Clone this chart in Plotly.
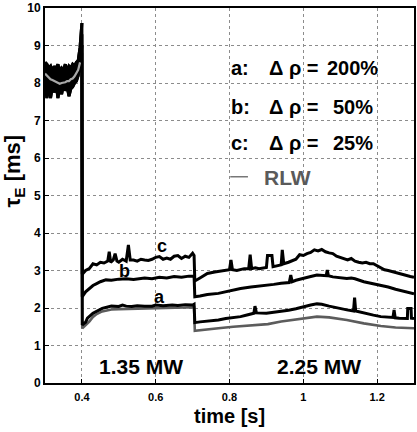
import plotly.graph_objects as go

# ---------------- data ----------------
t_pre = [0.300, 0.305, 0.310, 0.315, 0.320, 0.325, 0.330, 0.335, 0.340, 0.345,
         0.350, 0.355, 0.360, 0.365, 0.370, 0.375, 0.380, 0.385, 0.390, 0.395, 0.400]
c_pre = [8.55, 8.50, 8.40, 8.45, 8.30, 8.45, 8.35, 8.50, 8.30, 8.40,
         8.35, 8.50, 8.30, 8.45, 8.40, 8.50, 8.45, 8.55, 8.60, 8.95, 9.60]
b_pre = [8.30, 8.20, 8.15, 8.25, 8.10, 8.20, 8.05, 8.20, 8.10, 8.00,
         8.15, 8.10, 8.20, 8.00, 8.15, 8.20, 8.25, 8.30, 8.40, 8.70, 9.30]
a_pre = [8.10, 7.60, 8.00, 7.60, 7.90, 7.75, 8.00, 7.60, 7.90, 7.70,
         7.95, 7.80, 7.90, 7.65, 7.85, 7.90, 8.00, 8.05, 8.20, 8.50, 9.00]
rlw_pre = [8.25, 8.20, 8.15, 8.10, 8.08, 8.05, 8.02, 8.00, 7.98, 8.00,
           8.00, 8.02, 8.05, 8.05, 8.10, 8.12, 8.18, 8.25, 8.35, 8.55, 8.80]

c_t = [0.401, 0.41, 0.42, 0.43, 0.44, 0.45, 0.46, 0.47, 0.474, 0.478, 0.485, 0.490, 0.495,
       0.50, 0.51, 0.52, 0.526, 0.531, 0.54, 0.55, 0.56, 0.57, 0.58, 0.59, 0.60, 0.61, 0.62,
       0.63, 0.64, 0.65, 0.66, 0.67, 0.68, 0.69, 0.70, 0.704,
       0.706, 0.72, 0.74, 0.76, 0.78, 0.80, 0.804, 0.808, 0.82, 0.84, 0.852, 0.856, 0.860,
       0.87, 0.88, 0.900, 0.903, 0.915, 0.918, 0.93, 0.940, 0.943, 0.947, 0.96, 0.97, 0.98,
       0.99, 1.00, 1.01, 1.02, 1.03, 1.04, 1.05, 1.06, 1.07, 1.08, 1.09, 1.10, 1.11, 1.12,
       1.13, 1.14, 1.15, 1.16, 1.17, 1.18, 1.19, 1.20, 1.21, 1.22, 1.23, 1.24, 1.25, 1.26,
       1.27, 1.28, 1.29, 1.30]
c_v = [2.90, 3.00, 3.05, 3.18, 3.15, 3.22, 3.20, 3.25, 3.50, 3.22, 3.28, 3.45, 3.25,
       3.22, 3.30, 3.25, 3.68, 3.28, 3.28, 3.25, 3.30, 3.28, 3.27, 3.30, 3.35, 3.37, 3.30,
       3.33, 3.30, 3.38, 3.40, 3.32, 3.38, 3.35, 3.46, 3.40,
       2.72, 2.80, 2.92, 2.96, 3.00, 3.02, 3.28, 3.02, 3.00, 3.05, 3.05, 3.42, 3.05,
       3.07, 3.05, 3.08, 3.40, 3.40, 3.10, 3.12, 3.15, 3.55, 3.18, 3.22, 3.25, 3.30,
       3.42, 3.40, 3.45, 3.48, 3.55, 3.52, 3.56, 3.50, 3.47, 3.45, 3.38, 3.35, 3.30, 3.28,
       3.32, 3.25, 3.22, 3.20, 3.22, 3.18, 3.18, 3.12, 3.08, 3.02, 3.00, 2.97, 2.95, 2.93,
       2.90, 2.87, 2.84, 2.82]

b_t = [0.401, 0.41, 0.42, 0.43, 0.44, 0.45, 0.465, 0.48, 0.50, 0.52, 0.54, 0.556, 0.57,
       0.59, 0.61, 0.63, 0.65, 0.67, 0.69, 0.704,
       0.706, 0.72, 0.74, 0.77, 0.79, 0.81, 0.83, 0.858, 0.88, 0.904, 0.92, 0.94, 0.962,
       0.966, 0.970, 0.98, 0.997, 1.01, 1.02, 1.037, 1.05, 1.062, 1.065, 1.068, 1.08, 1.10,
       1.118, 1.13, 1.14, 1.164, 1.19, 1.21, 1.23, 1.25, 1.27, 1.30]
b_v = [2.30, 2.43, 2.52, 2.60, 2.65, 2.70, 2.75, 2.74, 2.77, 2.78, 2.76, 2.79, 2.80,
       2.78, 2.82, 2.80, 2.84, 2.82, 2.85, 2.85,
       2.30, 2.32, 2.36, 2.39, 2.44, 2.48, 2.52, 2.56, 2.58, 2.60, 2.63, 2.66, 2.68,
       2.88, 2.70, 2.74, 2.79, 2.82, 2.84, 2.88, 2.86, 2.86, 3.01, 2.86, 2.83, 2.81,
       2.79, 2.80, 2.78, 2.70, 2.65, 2.61, 2.56, 2.50, 2.45, 2.38]

a_t = [0.401, 0.41, 0.415, 0.43, 0.44, 0.455, 0.48, 0.50, 0.51, 0.52, 0.535, 0.55, 0.57,
       0.59, 0.60, 0.62, 0.645, 0.66, 0.68, 0.70, 0.704,
       0.706, 0.72, 0.74, 0.77, 0.79, 0.81, 0.83, 0.85, 0.866, 0.869, 0.873, 0.90, 0.92,
       0.94, 0.96, 0.98, 0.997, 1.02, 1.037, 1.05, 1.07, 1.09, 1.118, 1.136, 1.139, 1.142,
       1.164, 1.19, 1.21, 1.243, 1.246, 1.249, 1.26, 1.282, 1.283, 1.292, 1.293, 1.30]
a_v = [1.55, 1.62, 1.73, 1.86, 1.92, 1.99, 2.05, 2.04, 2.08, 2.05, 2.04, 2.06, 2.05,
       2.05, 2.08, 2.06, 2.08, 2.07, 2.09, 2.08, 2.10,
       1.61, 1.63, 1.65, 1.68, 1.72, 1.75, 1.77, 1.82, 1.86, 2.05, 1.87, 1.86, 1.88,
       1.90, 1.94, 1.98, 2.03, 2.08, 2.11, 2.10, 2.05, 2.00, 1.95, 1.92, 2.28, 1.92,
       1.86, 1.81, 1.77, 1.75, 1.95, 1.74, 1.73, 1.72, 1.99, 1.99, 1.73, 1.72]

rlw_t = [0.401, 0.41, 0.42, 0.43, 0.44, 0.455, 0.48, 0.50, 0.53, 0.56, 0.60, 0.65, 0.70, 0.704,
         0.706, 0.73, 0.77, 0.81, 0.858, 0.904, 0.94, 0.97, 0.997, 1.037, 1.07, 1.118,
         1.164, 1.21, 1.25, 1.30]
rlw_v = [1.46, 1.54, 1.64, 1.76, 1.84, 1.91, 1.96, 1.97, 1.98, 1.99, 2.00, 2.01, 2.02, 2.02,
         1.39, 1.42, 1.46, 1.50, 1.53, 1.57, 1.64, 1.68, 1.72, 1.77, 1.75, 1.68,
         1.59, 1.52, 1.48, 1.46]

x_ticks = [0.4, 0.6, 0.8, 1.0, 1.2]
x_tick_labels = ["0.4", "0.6", "0.8", "1", "1.2"]
y_ticks = [0, 1, 2, 3, 4, 5, 6, 7, 8, 9, 10]
y_tick_labels = ["0", "1", "2", "3", "4", "5", "6", "7", "8", "9", "10"]

legend_rows = [("a:", "200%"), ("b:", "50%"), ("c:", "25%")]
power_labels = ["1.35 MW", "2.25 MW"]

# ---------------- figure ----------------
FONT = "Liberation Sans, Arial, Helvetica, sans-serif"
LW = 3
fig = go.Figure()

# RLW curve (underneath the black curves)
fig.add_trace(go.Scatter(x=t_pre + rlw_t, y=rlw_pre + rlw_v, mode="lines",
                         line=dict(color="#5c5c5c", width=2.6), showlegend=False, hoverinfo="skip"))

# the dense ohmic-phase band (black envelope between lowest and highest curve)
fig.add_trace(go.Scatter(x=t_pre, y=a_pre, mode="lines", line=dict(color="black", width=LW),
                         showlegend=False, hoverinfo="skip"))
fig.add_trace(go.Scatter(x=t_pre, y=c_pre, mode="lines", line=dict(color="black", width=LW),
                         fill="tonexty", fillcolor="black", showlegend=False, hoverinfo="skip"))

for xs, ys in [(t_pre + a_t, a_pre + a_v), (t_pre + b_t, b_pre + b_v), (t_pre + c_t, c_pre + c_v)]:
    fig.add_trace(go.Scatter(x=xs, y=ys, mode="lines", line=dict(color="black", width=LW),
                             showlegend=False, hoverinfo="skip"))

# RLW inside the dense band stays visible on top of it
fig.add_trace(go.Scatter(x=t_pre[:-1], y=rlw_pre[:-1], mode="lines",
                         line=dict(color="#a8a8a8", width=2.2), showlegend=False, hoverinfo="skip"))


def bold(s):
    return "<b>" + s + "</b>"


ann = []
# curve letters
for txt, tx, ty in [("c", 0.617, 3.66), ("b", 0.515, 2.98), ("a", 0.609, 2.30)]:
    ann.append(dict(x=tx, y=ty, xref="x", yref="y", text=bold(txt), showarrow=False,
                    font=dict(family=FONT, size=18, color="black")))

# legend text block
row_y = [8.39, 7.35, 6.39]
val_right = [1.209, 1.193, 1.193]
for (lab, val), yy, xr in zip(legend_rows, row_y, val_right):
    ann.append(dict(x=0.798, y=yy, xref="x", yref="y", text=bold(lab), showarrow=False,
                    xanchor="left", font=dict(family=FONT, size=20, color="black")))
    ann.append(dict(x=1.048, y=yy, xref="x", yref="y", text=bold("Δ ρ ="), showarrow=False,
                    xanchor="right", font=dict(family=FONT, size=20, color="black")))
    ann.append(dict(x=xr, y=yy, xref="x", yref="y", text=bold(val), showarrow=False,
                    xanchor="right", font=dict(family=FONT, size=20, color="black")))
ann.append(dict(x=0.889, y=5.48, xref="x", yref="y", text=bold("RLW"), showarrow=False,
                xanchor="left", font=dict(family=FONT, size=21, color="#5a5a5a")))

# power labels
for txt, tx in zip(power_labels, [0.44, 0.922]):
    ann.append(dict(x=tx, y=0.45, xref="x", yref="y", text=bold(txt), showarrow=False,
                    xanchor="left", font=dict(family=FONT, size=21, color="black")))

# axis titles
ann.append(dict(x=-0.083, y=0.565, xref="paper", yref="paper", text=bold("τ<sub>E</sub> [ms]"),
                showarrow=False, textangle=-90, xanchor="center", yanchor="middle",
                font=dict(family=FONT, size=22, color="black")))
ann.append(dict(x=0.5, y=-0.087, xref="paper", yref="paper", text=bold("time [s]"),
                showarrow=False, xanchor="center", yanchor="middle",
                font=dict(family=FONT, size=20, color="black")))

fig.update_layout(
    width=417, height=432,
    margin=dict(l=45, r=1, t=8, b=49),
    paper_bgcolor="white", plot_bgcolor="white",
    annotations=ann,
    shapes=[dict(type="line", xref="x", yref="y", x0=0.802, x1=0.85, y0=5.50, y1=5.50,
                 line=dict(color="#777777", width=1.5))],
    xaxis=dict(range=[0.3, 1.3], tickvals=x_ticks, ticktext=[bold(s) for s in x_tick_labels],
               showgrid=True, gridcolor="#8c8c8c", griddash="dot", gridwidth=1,
               showline=True, linecolor="black", linewidth=2, mirror=True,
               ticks="inside", ticklen=4, tickcolor="black", zeroline=False,
               ticklabelstandoff=3,
               tickfont=dict(family=FONT, size=11, color="black")),
    yaxis=dict(range=[0, 10], tickvals=y_ticks, ticktext=[bold(s) for s in y_tick_labels],
               showgrid=True, gridcolor="#8c8c8c", griddash="dot", gridwidth=1,
               showline=True, linecolor="black", linewidth=2, mirror=True,
               ticks="inside", ticklen=4, tickcolor="black", zeroline=False,
               tickfont=dict(family=FONT, size=12, color="black")),
)

fig.write_html("out.html")
